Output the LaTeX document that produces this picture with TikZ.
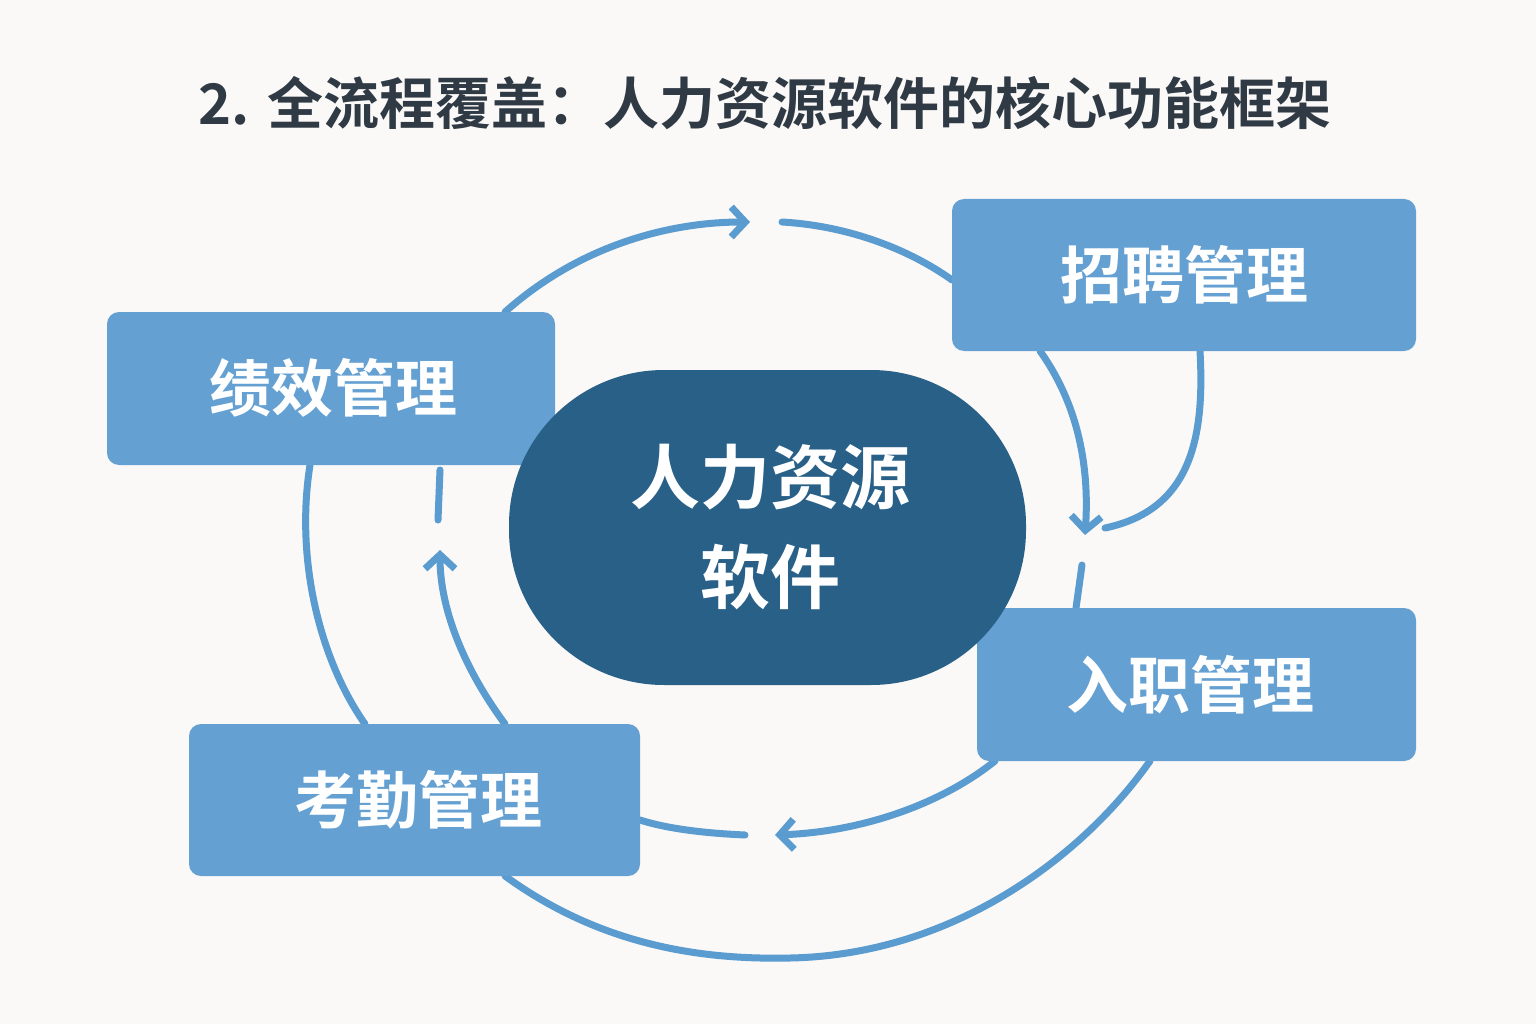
\documentclass[tikz,border=0pt]{standalone}
\usepackage{fontspec}
\newfontfamily\cjk{Noto Sans CJK SC Bold}
\usetikzlibrary{arrows.meta}
\definecolor{bg}{HTML}{FAF9F7}
\definecolor{boxc}{HTML}{64A0D2}
\definecolor{linec}{HTML}{5A9BD0}
\definecolor{core}{HTML}{286088}
\definecolor{titlec}{HTML}{2F3A45}
\begin{document}
\begin{tikzpicture}[x=1pt,y=-1pt,
  mod/.style={fill=boxc,rounded corners=12pt,inner sep=0pt},
  lbl/.style={text=white,font=\cjk\fontsize{62}{70}\selectfont},
  flow/.style={draw=linec,line width=7pt,line cap=round},
  tip/.style={-{Straight Barb[length=14pt,width=30pt,line width=7pt]}}]
\fill[bg] (0,0) rectangle (1536,1024);
\useasboundingbox (0,0) rectangle (1536,1024);
\node[text=titlec,font=\cjk\fontsize{56}{64}\selectfont] (title) at (765,103) {2. 全流程覆盖：人力资源软件的核心功能框架};
% connectors first
\coordinate (a1) at (750,222); \coordinate (a1b) at (782,222);
\draw[flow,tip] (505,312) .. controls (580,245) and (670,222) .. (a1);
\draw[flow] (a1b) .. controls (850,226) and (910,250) .. (952,280);
\coordinate (a2) at (1085,535);
\draw[flow,tip] (1040,351) .. controls (1075,400) and (1090,460) .. (a2);
\draw[flow] (1200,351) .. controls (1205,440) and (1190,510) .. (1105,528);
\draw[flow] (1082,565) -- (1076,608);
\coordinate (a3) at (775,835);
\draw[flow,tip] (995,761) .. controls (940,805) and (860,832) .. (a3);
\draw[flow] (745,835) .. controls (700,833) and (665,828) .. (640,820);
\draw[flow] (505,876) .. controls (600,945) and (700,960) .. (790,958) .. controls (950,955) and (1080,860) .. (1150,761);
\draw[flow] (365,724) .. controls (320,660) and (295,560) .. (310,465);
\coordinate (a4) at (440,550);
\draw[flow,tip] (505,724) .. controls (465,670) and (440,610) .. (a4);
\draw[flow] (438,520) -- (440,470);
% boxes
\fill[mod] (952,199) rectangle (1416,351);
\node[lbl] (zp) at (1184,275) {招聘管理};
\fill[mod] (107,312) rectangle (555,465);
\node[lbl] (jx) at (333,388) {绩效管理};
\fill[mod] (977,608) rectangle (1416,761);
\node[lbl] (rz) at (1190,685) {入职管理};
\fill[mod] (189,724) rectangle (640,876);
\node[lbl] (kq) at (418,800) {考勤管理};
\fill[core,rounded corners=155pt] (509,370) rectangle (1026,685);
\node[text=white,font=\cjk\fontsize{70}{100}\selectfont,align=center] (hr) at (770,527) {人力资源\\软件};
\end{tikzpicture}
\end{document}
